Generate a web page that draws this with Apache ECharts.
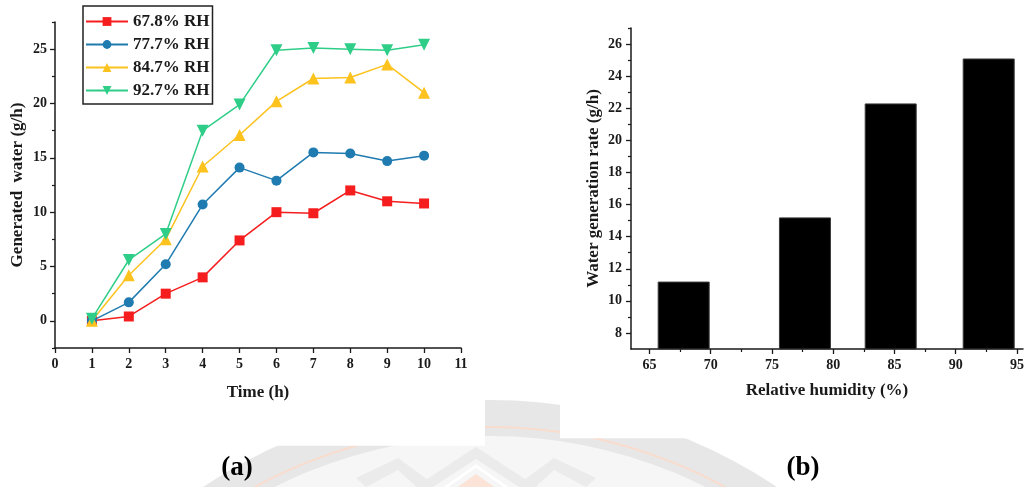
<!DOCTYPE html>
<html>
<head>
<meta charset="utf-8">
<script src="https://cdn.jsdelivr.net/npm/echarts@6/dist/echarts.min.js"></script>
<style>
  html, body { margin: 0; padding: 0; background: #fff; }
  #chart { width: 1033px; height: 487px; }
</style>
</head>
<body>
<div id="chart"></div>
<script>
// Panel (a): hourly water output at four humidity levels
const hours = [1, 2, 3, 4, 5, 6, 7, 8, 9, 10];
const rh678 = [0, 0.4, 2.5, 4.0, 7.4, 10.0, 9.9, 12.0, 11.0, 10.8];
const rh777 = [0, 1.7, 5.2, 10.7, 14.1, 12.9, 15.5, 15.4, 14.7, 15.2];
const rh847 = [0, 4.2, 7.5, 14.2, 17.1, 20.2, 22.3, 22.4, 23.6, 21.0];
const rh927 = [0.2, 5.6, 8.0, 17.5, 19.9, 24.9, 25.1, 25.0, 24.9, 25.4];
const seriesNames = ['67.8% RH', '77.7% RH', '84.7% RH', '92.7% RH'];

// Panel (b): generation rate versus relative humidity
const humidity = [67.8, 77.7, 84.7, 92.7];
const rate = [11.2, 15.2, 22.3, 25.1];

// Tick positions
const aTimeTicks = [0, 1, 2, 3, 4, 5, 6, 7, 8, 9, 10, 11];
const aWaterTicks = [0, 5, 10, 15, 20, 25];
const aWaterMinor = [-2.5, 2.5, 7.5, 12.5, 17.5, 22.5, 27.5];
const bHumTicks = [65, 70, 75, 80, 85, 90, 95];
const bHumMinor = [67.5, 72.5, 77.5, 82.5, 87.5, 92.5];
const bRateTicks = [8, 10, 12, 14, 16, 18, 20, 22, 24, 26];
const bRateMinor = [9, 11, 13, 15, 17, 19, 21, 23, 25, 27];

const FONT = "'Liberation Serif', 'Times New Roman', serif";
const INK = '#1a1a1a';
const colors = ['#f51d1d', '#1f7bb0', '#fcc21e', '#2fce88'];
const symbols = ['rect', 'circle', 'triangle', 'path://M0,0 L10,0 L5,9 Z'];
const symbolSizes = [10, 10, 12, 12];
const lineData = [rh678, rh777, rh847, rh927];

const tickLabel = { fontFamily: FONT, fontWeight: 'bold', fontSize: 14, color: INK };
const nameStyle = { fontFamily: FONT, fontWeight: 'bold', fontSize: 17, color: INK };
const axisLine = { show: true, onZero: false, lineStyle: { color: INK, width: 1.5 } };

function majorAxis(extra) {
  return Object.assign({
    type: 'value',
    axisLine: axisLine,
    splitLine: { show: false },
    nameTextStyle: nameStyle
  }, extra);
}
function minorAxis(extra) {
  return Object.assign({
    type: 'value',
    axisLine: { show: false, onZero: false },
    axisLabel: { show: false },
    splitLine: { show: false }
  }, extra);
}

const chart = echarts.init(document.getElementById('chart'), null, { renderer: 'canvas' });

// Faint seal printed behind the page
const cx = 490, cy = 917;
const lotusX = 476;
const sealGrey = '#ebebeb';
function mirror(pts) { return pts.map(p => [2 * lotusX - p[0], p[1]]); }
const leftPetal = [[356, 478], [398, 458], [428, 480], [420, 490], [398, 470], [366, 487]];

const graphics = [
  { type: 'circle', z: -10, silent: true, shape: { cx: cx, cy: cy, r: 517 }, style: { fill: '#e7e7e7' } },
  { type: 'circle', z: -10, silent: true, shape: { cx: cx, cy: cy, r: 481 }, style: { fill: '#f6f6f6' } },
  { type: 'circle', z: -9, silent: true, shape: { cx: cx, cy: cy, r: 490 }, style: { fill: null, stroke: '#f9dccd', lineWidth: 2 } },
  { type: 'polygon', z: -9, silent: true, shape: { points: [[lotusX, 447], [548, 494], [530, 494], [lotusX, 459], [422, 494], [404, 494]] }, style: { fill: sealGrey } },
  { type: 'polyline', z: -9, silent: true, shape: { points: [[436, 494], [lotusX, 466], [516, 494]] }, style: { stroke: '#ffffff', lineWidth: 3, fill: null } },
  { type: 'polygon', z: -9, silent: true, shape: { points: [[lotusX, 474], [504, 494], [448, 494]] }, style: { fill: '#fbe3d7' } },
  { type: 'polygon', z: -9, silent: true, shape: { points: leftPetal }, style: { fill: sealGrey } },
  { type: 'polygon', z: -9, silent: true, shape: { points: mirror(leftPetal) }, style: { fill: sealGrey } },
  // white panels of the two figures sit over the seal
  { type: 'rect', z: -5, silent: true, shape: { x: 0, y: 380, width: 485, height: 65.7 }, style: { fill: '#ffffff' } },
  { type: 'rect', z: -5, silent: true, shape: { x: 485, y: 380, width: 75, height: 20 }, style: { fill: '#ffffff' } },
  { type: 'rect', z: -5, silent: true, shape: { x: 560, y: 380, width: 473, height: 58.3 }, style: { fill: '#ffffff' } },
  // panel captions
  { type: 'text', z: 10, x: 237, y: 468, style: { text: '(a)', font: "bold 27px 'Liberation Serif', serif", fill: '#000', textAlign: 'center', textVerticalAlign: 'middle' } },
  { type: 'text', z: 10, x: 803, y: 468, style: { text: '(b)', font: "bold 27px 'Liberation Serif', serif", fill: '#000', textAlign: 'center', textVerticalAlign: 'middle' } }
];

const lineSeries = seriesNames.map((name, i) => ({
  name: name,
  type: 'line',
  xAxisIndex: 0,
  yAxisIndex: 0,
  data: hours.map((h, k) => [h, lineData[i][k]]),
  symbol: symbols[i],
  symbolSize: symbolSizes[i],
  showSymbol: true,
  color: colors[i],
  lineStyle: { width: 1.5, color: colors[i] },
  itemStyle: { color: colors[i] },
  z: 3 + i
}));

chart.setOption({
  animation: false,
  backgroundColor: '#ffffff',
  graphic: graphics,
  legend: {
    data: seriesNames,
    orient: 'vertical',
    left: 83,
    top: 6,
    padding: [7, 3, 5, 2],
    itemWidth: 42,
    itemHeight: 11,
    itemGap: 6,
    borderColor: '#222',
    borderWidth: 1.5,
    textStyle: { fontFamily: FONT, fontWeight: 'bold', fontSize: 17, color: INK, lineHeight: 17 }
  },
  grid: [
    { left: 55, top: 22, width: 406, height: 326 },
    { left: 631, top: 28, width: 392, height: 321 }
  ],
  xAxis: [
    majorAxis({
      gridIndex: 0, min: 0, max: 11, interval: 1,
      name: 'Time (h)', nameLocation: 'middle', nameGap: 36,
      axisTick: { show: true, inside: false, length: 5, lineStyle: { color: INK, width: 1.3 } },
      axisLabel: Object.assign({ margin: 9, customValues: aTimeTicks }, tickLabel)
    }),
    majorAxis({
      gridIndex: 1, min: 63.5, max: 95.5,
      name: 'Relative humidity (%)', nameLocation: 'middle', nameGap: 33,
      axisTick: { show: true, length: 5, customValues: bHumTicks, lineStyle: { color: INK, width: 1.3 } },
      axisLabel: Object.assign({ margin: 9, customValues: bHumTicks }, tickLabel)
    }),
    minorAxis({
      gridIndex: 1, min: 63.5, max: 95.5, position: 'bottom',
      axisTick: { show: true, length: 3, customValues: bHumMinor, lineStyle: { color: INK, width: 1.2 } }
    })
  ],
  yAxis: [
    majorAxis({
      gridIndex: 0, min: -2.5, max: 27.5,
      name: 'Generated  water (g/h)', nameLocation: 'middle', nameGap: 29, nameRotate: 90,
      axisTick: { show: true, length: 5, customValues: aWaterTicks, lineStyle: { color: INK, width: 1.3 } },
      axisLabel: Object.assign({ margin: 8, customValues: aWaterTicks }, tickLabel)
    }),
    minorAxis({
      gridIndex: 0, min: -2.5, max: 27.5, position: 'left',
      axisTick: { show: true, length: 3, customValues: aWaterMinor, lineStyle: { color: INK, width: 1.2 } }
    }),
    majorAxis({
      gridIndex: 1, min: 7, max: 27,
      name: 'Water generation rate (g/h)', nameLocation: 'middle', nameGap: 29, nameRotate: 90,
      axisTick: { show: true, length: 5, customValues: bRateTicks, lineStyle: { color: INK, width: 1.3 } },
      axisLabel: Object.assign({ margin: 9, customValues: bRateTicks }, tickLabel)
    }),
    minorAxis({
      gridIndex: 1, min: 7, max: 27, position: 'left',
      axisTick: { show: true, length: 3, customValues: bRateMinor, lineStyle: { color: INK, width: 1.2 } }
    })
  ],
  series: lineSeries.concat([{
    name: 'rate',
    type: 'bar',
    xAxisIndex: 1,
    yAxisIndex: 2,
    data: humidity.map((h, k) => [h, rate[k]]),
    barWidth: 52,
    itemStyle: { color: '#000000', borderColor: '#3a3a3a', borderWidth: 1 },
    clip: true
  }])
});
</script>
</body>
</html>
